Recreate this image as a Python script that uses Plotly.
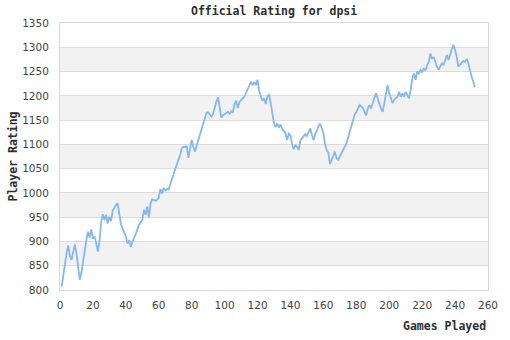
import plotly.graph_objects as go

# Rating after each game played
games = list(range(1, 253))
rating = [
    807, 831, 855, 876, 892, 870, 862, 880, 894, 876,
    845, 821, 836, 855, 880, 903, 920, 908, 925, 906,
    910, 896, 879, 900, 940, 956, 944, 955, 937, 951,
    942, 963, 970, 975, 979, 958, 936, 927, 920, 910,
    896, 903, 889, 900, 908, 915, 925, 934, 940, 944,
    965, 955, 972, 950, 978, 987, 985, 984, 986, 990,
    1008, 999, 1010, 1005, 1008, 1007, 1018, 1030, 1040, 1049,
    1059, 1068, 1078, 1092, 1095, 1094, 1097, 1072, 1093, 1109,
    1095, 1085, 1097, 1109, 1121, 1133, 1146, 1157, 1165, 1166,
    1160, 1157, 1163, 1178, 1188, 1197, 1178, 1155, 1160, 1163,
    1165, 1167, 1163, 1168, 1166, 1182, 1190, 1175, 1187, 1192,
    1195, 1198, 1205, 1212, 1220, 1229, 1222, 1228, 1222, 1233,
    1210, 1198, 1190, 1195, 1183, 1198, 1203, 1185, 1160, 1143,
    1136, 1143, 1134, 1141, 1132, 1126, 1122, 1109, 1122, 1119,
    1100, 1090, 1098, 1095, 1088, 1108, 1113, 1116, 1121, 1117,
    1127, 1133, 1120, 1109, 1120, 1131, 1137, 1143, 1132, 1123,
    1100, 1088, 1083, 1060, 1068, 1078, 1085, 1071, 1068, 1075,
    1082, 1088, 1095, 1102, 1114, 1126, 1140, 1152, 1161, 1167,
    1176, 1181, 1178, 1175, 1167, 1160, 1174, 1181, 1174, 1188,
    1196, 1205, 1195, 1181, 1174, 1167, 1185, 1208, 1222, 1205,
    1195, 1185, 1192, 1195, 1198, 1208, 1198, 1205, 1198, 1208,
    1200, 1195, 1212, 1236, 1246, 1233, 1250, 1246, 1253, 1249,
    1257, 1252, 1263, 1270, 1287, 1276, 1280, 1267, 1260, 1254,
    1262, 1267, 1263, 1275, 1284, 1274, 1288, 1296, 1305, 1295,
    1280, 1260, 1264, 1269, 1272, 1270, 1276, 1268, 1250, 1240,
    1230, 1218,
]

y_ticks = list(range(800, 1351, 50))
x_ticks = list(range(0, 261, 20))

TITLE_FONT = dict(family="DejaVu Sans Mono", size=11.5, color="#2e2e2e")
TICK_FONT = dict(family="DejaVu Sans", size=10.5, color="#444444")

fig = go.Figure()

# alternating shaded bands between every other pair of gridlines
shapes = []
for lo, hi in zip(y_ticks[1::2], y_ticks[2::2]):
    shapes.append(dict(type="rect", xref="paper", yref="y", x0=0, x1=1,
                       y0=lo, y1=hi, fillcolor="#f2f2f2", line_width=0,
                       layer="below"))

fig.add_trace(go.Scatter(
    x=games, y=rating, mode="lines",
    line=dict(color="#85b8f0", width=1.8),
    hoverinfo="x+y",
))

fig.update_layout(
    width=510, height=340,
    margin=dict(l=60, r=19, t=23, b=50),
    paper_bgcolor="white", plot_bgcolor="white",
    showlegend=False,
    shapes=shapes,
    annotations=[
        dict(text="<b>Official Rating for dpsi</b>", xref="paper", yref="paper",
             x=0.5, y=1, yshift=12, xanchor="center", yanchor="middle",
             showarrow=False, font=TITLE_FONT),
        dict(text="<b>Games Played</b>", xref="paper", yref="paper",
             x=1, y=0, yshift=-36, xanchor="right", yanchor="middle",
             showarrow=False, font=TITLE_FONT),
        dict(text="<b>Player Rating</b>", xref="paper", yref="paper",
             x=0, y=0.5, xshift=-48, xanchor="center", yanchor="middle",
             textangle=-90, showarrow=False, font=TITLE_FONT),
    ],
    xaxis=dict(range=[0, 260], tickvals=x_ticks, showgrid=False,
               zeroline=False, showline=True, linecolor="#d8d8d8",
               mirror=True, ticks="", tickfont=TICK_FONT, ticklabelstandoff=5),
    yaxis=dict(range=[800, 1350], tickvals=y_ticks, showgrid=True,
               gridcolor="#dddddd", gridwidth=1, zeroline=False,
               showline=True, linecolor="#d8d8d8", mirror=True, ticks="",
               tickfont=TICK_FONT, ticklabelstandoff=8),
)

fig.write_html("out.html")
